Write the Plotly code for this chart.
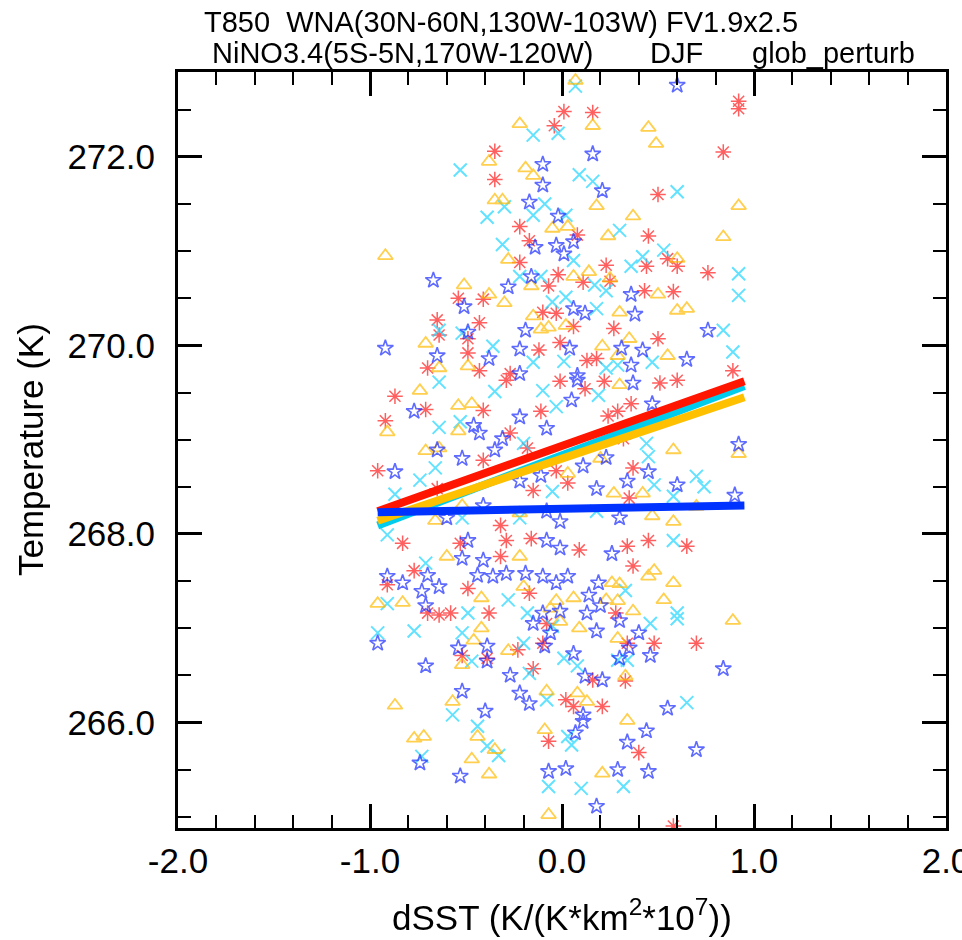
import plotly.graph_objects as go

# ---------------- data ----------------
red_x = [0.92, 0.92, 0.01, 0.16, -0.04, -0.35, 0.84, -0.35, 0.50,
         0.45, -0.22, -0.17, 0.08, -0.22, 0.44, 0.60, 0.55, 0.23, 0.76,
         -0.07, -0.02, 0.11, 0.25, 0.43, 0.58, -0.54, -0.41, -0.10, -0.03,
         -0.65, -0.43, -0.64, -0.49, 0.06, 0.27, 0.50, -0.49, -0.12, -0.01,
         0.89, -0.70, -0.43, -0.27, 0.13, 0.18,
         -0.87, -0.71, -0.92, -0.41, -0.27, -0.29, -0.11, -0.01, 0.12, 0.22, 0.51, 0.60, 0.36, 0.29, 0.24,
         -0.18, -0.41, -0.96, -0.65, -0.15, -0.03, 0.03, 0.32, 0.37, 0.35, -0.32,
         -0.83, -0.53, -0.32, -0.29, -0.16, 0.09, 0.34, 0.45, 0.65, 0.37,
         -0.91, -0.77, -0.70, -0.64, -0.58, -0.49, -0.38, -0.17, -0.08, 0.28,
         -0.52, -0.39, -0.23, -0.10, -0.15, 0.16, 0.34, 0.48, 0.33, 0.70,
         0.02, 0.06, 0.21, -0.07, 0.40, 0.58]
red_y = [272.59, 272.51, 272.48, 272.47, 272.33, 272.06, 272.05, 271.76, 271.60,
         271.16, 271.26, 271.11, 271.17, 270.88, 270.84, 270.84, 270.92, 270.85, 270.77,
         270.63, 270.75, 270.67, 270.68, 270.58, 270.57, 270.50, 270.49, 270.35, 270.34,
         270.27, 270.24, 270.11, 270.07, 270.20, 270.18, 270.07, 269.92, 269.95, 270.03,
         269.73, 269.76, 269.73, 269.70, 269.84, 269.86,
         269.46, 269.32, 269.20, 269.31, 269.07, 269.63, 269.30, 269.62, 269.54, 269.62, 269.60, 269.63, 269.38, 269.30, 269.25,
         268.91, 268.78, 268.67, 268.48, 268.46, 268.67, 268.54, 269.01, 268.70, 268.38, 268.09,
         267.90, 267.90, 267.76, 267.93, 267.95, 267.83, 267.87, 267.93, 267.87, 267.66,
         267.46, 267.61, 267.16, 267.14, 267.16, 267.42, 267.16, 267.37, 267.05, 267.16,
         266.71, 266.68, 266.77, 266.84, 266.57, 266.45, 266.84, 266.84, 266.44, 266.84,
         266.24, 266.17, 266.17, 265.80, 265.68, 264.90]

cyan_x = [0.07, -0.15, -0.02, -0.53, 0.09, 0.16, 0.60, -0.30, -0.09, -0.39, -0.15, 0.02,
          0.30, -0.31, 0.06, 0.53, 0.42, 0.36, 0.92, 0.92, -0.22, -0.11, 0.17, 0.23, -0.05, 0.02, 0.18,
          -0.64, -0.52, 0.84, -0.36, 0.89, -0.15, 0.01, 0.23, 0.29, 0.47,
          -0.64, -0.64, -0.53, -0.35, -0.03, -0.10, 0.19,
          -0.20, -0.66, -0.74, -0.87, -0.05, 0.44, 0.45, 0.70, 0.74, 0.48, 0.58, -0.52, -0.22, 0.18,
          -0.91, 0.58, 0.33, -0.71, -0.91, -0.49, -0.28, -0.18, 0.46, 0.60, 0.60, -0.96, -0.77, -0.52,
          -0.47, -0.20, -0.17, 0.01, 0.08, 0.29, 0.34, -0.05,
          -0.08, 0.65, -0.57, -0.44, -0.39, -0.33, 0.03, 0.05, -0.73, -0.07, 0.10, 0.32]
cyan_y = [272.75, 272.23, 272.25, 271.86, 271.81, 271.74, 271.63, 271.47, 271.50, 271.36, 271.38, 271.38,
          271.22, 271.07, 270.90, 271.01, 270.94, 270.84, 270.76, 270.53, 270.73, 270.73, 270.64, 270.58, 270.46, 270.51, 270.39,
          270.16, 270.13, 270.16, 269.99, 269.93, 269.82, 269.83, 269.76, 269.79, 269.82,
          269.61, 269.13, 269.19, 269.51, 269.35, 269.52, 269.47,
          268.96, 268.70, 268.57, 268.42, 268.45, 268.96, 268.82, 268.61, 268.50, 268.52, 268.40, 268.17, 268.17, 268.24,
          267.99, 267.93, 267.40, 267.69, 267.26, 267.16, 267.30, 267.16, 267.05, 267.16, 267.10, 266.95, 266.97, 266.95,
          266.65, 266.84, 266.52, 266.68, 266.60, 266.66, 266.66, 267.02,
          266.24, 266.21, 266.08, 265.96, 265.75, 265.65, 265.85, 265.76, 265.64, 265.32, 265.30, 265.32]

gold_x = [0.07, -0.22, 0.16, 0.45, 0.49, -0.38, -0.19, -0.15, -0.35, -0.31, 0.18, 0.92, 0.37,
          -0.92, 0.84, 0.24, -0.05, 0.03, -0.28, 0.60, -0.51, -0.16, 0.06, 0.14, 0.25, 0.50, 0.60, 0.65,
          -0.38, -0.30, -0.15, 0.30,
          -0.11, -0.07, 0.02, 0.35, -0.71, 0.21, 0.55, -0.64, -0.49, 0.29,
          -0.74, -0.91, -0.54, -0.47, -0.54, 0.30, -0.71, -0.64, 0.03, 0.20, 0.58, 0.92, 0.42, 0.27,
          0.70, 0.58, -0.66, -0.52, -0.22, 0.47,
          -0.60, -0.22, 0.48, 0.45, 0.58, -0.96, -0.83, -0.42, -0.20, -0.06, -0.03, -0.01, 0.06, 0.23,
          0.29, 0.26, 0.30, 0.09, 0.37, 0.53, 0.89, -0.42, -0.46, -0.52, -0.28, 0.33, 0.29,
          -0.57, -0.87, -0.08, 0.08, 0.13, 0.34, -0.77, -0.72, -0.44, -0.35, -0.09, -0.47, -0.38, 0.21, -0.07]
gold_y = [272.81, 272.35, 272.33, 272.31, 272.14, 271.95, 271.88, 271.80, 271.54, 271.54, 271.48, 271.48, 271.37,
          270.95, 271.15, 271.16, 271.24, 271.26, 270.91, 270.92, 270.64, 270.63, 270.73, 270.78, 270.71, 270.54, 270.37, 270.39,
          270.54, 270.45, 270.31, 270.35,
          270.17, 270.19, 270.21, 270.07, 270.02, 269.99, 269.89, 269.76, 269.78, 269.89,
          269.52, 269.08, 269.36, 269.38, 269.09, 269.58, 268.88, 268.91, 268.64, 268.80, 268.89, 268.85, 268.43, 268.43,
          268.29, 268.13, 268.14, 268.30, 268.22, 268.19,
          267.76, 267.76, 267.61, 267.55, 267.48, 267.26, 267.27, 267.32, 267.44, 267.21, 267.29, 267.07, 267.32, 267.30,
          267.29, 267.48, 267.47, 267.00, 267.18, 267.30, 267.08, 267.00, 266.87, 266.61, 266.76, 266.49, 266.89,
          266.22, 266.18, 266.33, 266.31, 266.22, 266.02, 265.83, 265.85, 265.85, 265.71, 265.92, 265.61, 265.45, 265.46, 265.02]

blue_x = [0.60, 0.16, -0.10, -0.10, 0.21, -0.17, -0.02,
          -0.14, -0.03, 0.06, 0.01, -0.67, -0.28, -0.16, 0.36, -0.51, 0.06, 0.12, 0.38, -0.49, -0.19, 0.76,
          -0.92, -0.65, -0.38, -0.22, 0.04, 0.31, 0.42, 0.65, -0.22, 0.36, 0.08,
          -0.77, -0.43, -0.46, -0.31, -0.22, -0.08, 0.05, 0.08, 0.37, 0.47,
          -0.35, -0.65, -0.52, -0.87, -0.22, -0.11, 0.11, 0.23, 0.92, 0.45, 0.34, 0.60, 0.90, 0.18,
          -0.60, -0.41, -0.08, 0.30, -0.01,
          -0.52, -0.49, -0.41, -0.08, -0.01, 0.26, -0.91, -0.83, -0.70, -0.64, -0.73, -0.71, -0.44,
          -0.36, -0.29, -0.19, -0.10, -0.03, 0.03, -0.10, -0.15, -0.06, -0.01, 0.19, 0.14, 0.20, 0.13,
          0.18, 0.30,
          -0.96, -0.54, -0.39, -0.39, -0.71, -0.09, -0.27, 0.06, 0.12, 0.21, 0.30, 0.35, 0.40, 0.46, 0.84,
          -0.52, -0.40, -0.22, -0.17, 0.11, 0.11, 0.55, 0.07, 0.34, 0.44, 0.70, -0.74, -0.53, -0.07,
          0.02, 0.29, 0.45, 0.18]
blue_y = [272.76, 272.03, 271.92, 271.70, 271.64, 271.52, 271.37,
          271.04, 271.06, 271.10, 270.97, 270.69, 270.62, 270.73, 270.54, 270.41, 270.39, 270.34, 270.33, 270.14, 270.16, 270.16,
          269.97, 269.89, 269.86, 269.96, 269.97, 269.97, 269.95, 269.85, 269.70, 269.79, 269.68,
          269.30, 269.07, 269.15, 269.01, 269.24, 269.12, 269.42, 269.63, 269.60, 269.38,
          268.89, 268.89, 268.80, 268.66, 268.56, 268.62, 268.72, 268.81, 268.95, 268.66, 268.56, 268.52, 268.41, 268.48,
          268.17, 268.30, 268.24, 268.17, 268.13,
          267.74, 267.93, 267.72, 267.93, 267.85, 267.79, 267.55, 267.48, 267.56, 267.44, 267.39, 267.24, 267.56,
          267.55, 267.58, 267.58, 267.55, 267.48, 267.55, 267.16, 267.05, 266.95, 267.18, 267.48, 267.35, 267.24, 267.16,
          266.97, 267.08,
          266.84, 266.79, 266.81, 266.65, 266.60, 266.81, 266.50, 266.73, 266.49, 266.45, 266.68, 266.79, 266.95, 266.71, 266.57,
          266.33, 266.12, 266.31, 266.20, 266.08, 266.01, 266.15, 265.89, 265.79, 265.91, 265.71, 265.57, 265.43, 265.48,
          265.51, 265.50, 265.48, 265.11]

# regression lines (end points)
fit_x = [-0.96, 0.95]
red_fit = [268.24, 269.62]
cyan_fit = [268.09, 269.57]
gold_fit = [268.14, 269.45]
blue_fit = [268.23, 268.30]

x_tickvals = [-2, -1, 0, 1, 2]
x_ticktext = ["-2.0", "-1.0", "0.0", "1.0", "2.0"]
y_tickvals = [266, 268, 270, 272]
y_ticktext = ["266.0", "268.0", "270.0", "272.0"]

title1 = "T850  WNA(30N-60N,130W-103W) FV1.9x2.5"
title2a = "NiNO3.4(5S-5N,170W-120W)"
title2b = "DJF"
title2c = "glob_perturb"
xlabel = "dSST (K/(K*km<sup>2</sup>*10<sup>7</sup>))"
ylabel = "Temperature (K)"

# ---------------- figure ----------------
FONT = "Liberation Sans, Arial, Helvetica, sans-serif"
fig = go.Figure()

fig.add_trace(go.Scatter(x=red_x, y=red_y, mode="markers", opacity=0.7,
                         marker=dict(symbol="asterisk-open", size=13, color="#ff1a1a",
                                     line=dict(width=1.5, color="#ff1a1a"))))
fig.add_trace(go.Scatter(x=cyan_x, y=cyan_y, mode="markers", opacity=0.7,
                         marker=dict(symbol="x-thin-open", size=13, color="#1fd6ff",
                                     line=dict(width=2, color="#1fd6ff"))))
fig.add_trace(go.Scatter(x=gold_x, y=gold_y, mode="markers", opacity=0.7,
                         marker=dict(symbol="triangle-up-open", size=13, color="#ffbb00",
                                     line=dict(width=1.8, color="#ffbb00"))))
fig.add_trace(go.Scatter(x=blue_x, y=blue_y, mode="markers", opacity=0.7,
                         marker=dict(symbol="star-open", size=12, color="#1a2cff",
                                     line=dict(width=1.6, color="#1a2cff"))))

fig.add_trace(go.Scatter(x=fit_x, y=cyan_fit, mode="lines", line=dict(color="#00ccee", width=8)))
fig.add_trace(go.Scatter(x=fit_x, y=gold_fit, mode="lines", line=dict(color="#ffc000", width=8)))
fig.add_trace(go.Scatter(x=fit_x, y=red_fit, mode="lines", line=dict(color="#ff1500", width=8)))
fig.add_trace(go.Scatter(x=fit_x, y=blue_fit, mode="lines", line=dict(color="#0033ff", width=8)))

axis_common = dict(showgrid=False, zeroline=False, showline=True, linecolor="black", linewidth=3,
                   mirror="ticks", ticks="inside", ticklen=24, tickwidth=2.5, tickcolor="black",
                   ticklabeloverflow="allow", automargin=False,
                   tickfont=dict(family=FONT, size=35, color="black"))

fig.update_xaxes(range=[-2, 2], tickmode="array", tickvals=x_tickvals, ticktext=x_ticktext,
                 ticklabelstandoff=0,
                 minor=dict(ticks="inside", tick0=-2, dtick=0.2, ticklen=13, tickwidth=2,
                            tickcolor="black", showgrid=False),
                 **axis_common)
fig.update_yaxes(range=[264.88, 272.9], tickmode="array", tickvals=y_tickvals, ticktext=y_ticktext,
                 ticklabelstandoff=13,
                 minor=dict(ticks="inside", tick0=265, dtick=0.5, ticklen=13, tickwidth=2,
                            tickcolor="black", showgrid=False),
                 **axis_common)

def px_x(p):
    return (p - 178) / 768.0

def px_y(p):
    return 1 - (p - 72) / 756.0

ann = []
ann.append(dict(text=title1, x=px_x(202), y=px_y(22), xanchor="left", yanchor="middle"))
ann.append(dict(text=title2a, x=px_x(210), y=px_y(53), xanchor="left", yanchor="middle"))
ann.append(dict(text=title2b, x=px_x(648), y=px_y(53), xanchor="left", yanchor="middle"))
ann.append(dict(text=title2c, x=px_x(750), y=px_y(53), xanchor="left", yanchor="middle"))
for a in ann:
    a.update(xref="paper", yref="paper", showarrow=False,
             font=dict(family=FONT, size=29, color="black"))
ann.append(dict(text=xlabel, x=px_x(562), y=px_y(915), xref="paper", yref="paper",
                xanchor="center", yanchor="middle", showarrow=False,
                font=dict(family=FONT, size=35, color="black")))
ann.append(dict(text=ylabel, x=px_x(30), y=px_y(450), xref="paper", yref="paper",
                xanchor="center", yanchor="middle", showarrow=False, textangle=-90,
                font=dict(family=FONT, size=35, color="black")))

fig.update_layout(width=962, height=940, showlegend=False,
                  margin=dict(l=178, r=16, t=72, b=112, autoexpand=False),
                  paper_bgcolor="white", plot_bgcolor="white",
                  annotations=ann)

fig.write_html("out.html")
